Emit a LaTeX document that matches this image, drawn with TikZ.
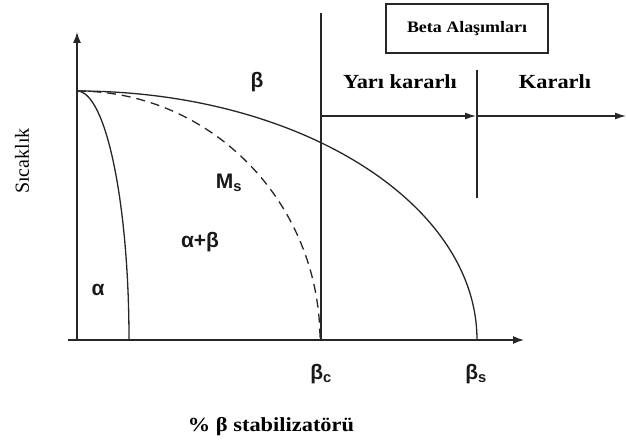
\documentclass[tikz,border=0pt]{standalone}
\usepackage{fontspec}
\setmainfont{Liberation Serif}
\setsansfont{Liberation Sans}
\usetikzlibrary{arrows.meta}
\begin{document}
\begin{tikzpicture}[x=1pt,y=-1pt,
  line/.style={draw=black!85,line width=1.3pt},
  axis/.style={line,-{Latex[length=11pt,width=8pt]}},
  arr/.style={line,-{Latex[length=11pt,width=7pt]}},
  glab/.style={inner sep=0pt,text=black!90,font=\sffamily\bfseries\fontsize{21}{21}\selectfont},
  tlab/.style={inner sep=0pt,xscale=1.12,font=\rmfamily\bfseries\fontsize{20}{20}\selectfont}]
\useasboundingbox (0,0) rectangle (627,441);
% axes
\coordinate (O) at (77,340);
\coordinate (ytop) at (77,32);
\coordinate (xl) at (68,340);
\coordinate (xr) at (524,340);
\draw[axis] (O) -- (ytop);
\draw[axis] (xl) -- (xr);
% curves
\coordinate (top) at (77,91);
\draw[line] (top) arc[start angle=-90,end angle=0,x radius=400,y radius=249];
\draw[line,dash pattern=on 9pt off 6pt] (top) arc[start angle=-90,end angle=0,x radius=243,y radius=249];
\draw[line] (top) arc[start angle=-90,end angle=0,x radius=52,y radius=249];
% vertical lines
\coordinate (bcTop) at (321,13);
\coordinate (bcBot) at (321,340);
\coordinate (bsTop) at (477,70);
\coordinate (bsBot) at (477,198);
\draw[line] (bcTop) -- (bcBot);
\draw[line] (bsTop) -- (bsBot);
% arrows
\coordinate (a1s) at (321,116);
\coordinate (a1e) at (476,116);
\coordinate (a2s) at (478,116);
\coordinate (a2e) at (626,116);
\draw[arr] (a1s) -- (a1e);
\draw[arr] (a2s) -- (a2e);
% box
\node[draw=black!85,line width=1.2pt,minimum width=162pt,minimum height=49pt,inner sep=0pt,
      font=\rmfamily\bfseries\fontsize{16}{16}\selectfont] (box) at (467,28.5) {\scalebox{1.12}[1]{Beta Alaşımları}};
% labels
\node[tlab] (yari) at (400,82) {Yarı kararlı};
\node[tlab] (kar) at (555,82) {Kararlı};
\node[glab] (beta) at (257,82) {β};
\node[glab] (ms) at (229,183) {M\textsubscript{s}};
\node[glab] (ab) at (200,242) {α+β};
\node[glab] (al) at (98,290) {α};
\node[glab] (bc) at (321,374) {β\textsubscript{c}};
\node[glab] (bs) at (476,374) {β\textsubscript{s}};
\node[inner sep=0pt,rotate=90,font=\rmfamily\fontsize{20}{20}\selectfont] (sic) at (22,161) {Sıcaklık};
\node[tlab] (xlab) at (271,427) {\% β stabilizatörü};
\end{tikzpicture}
\end{document}
